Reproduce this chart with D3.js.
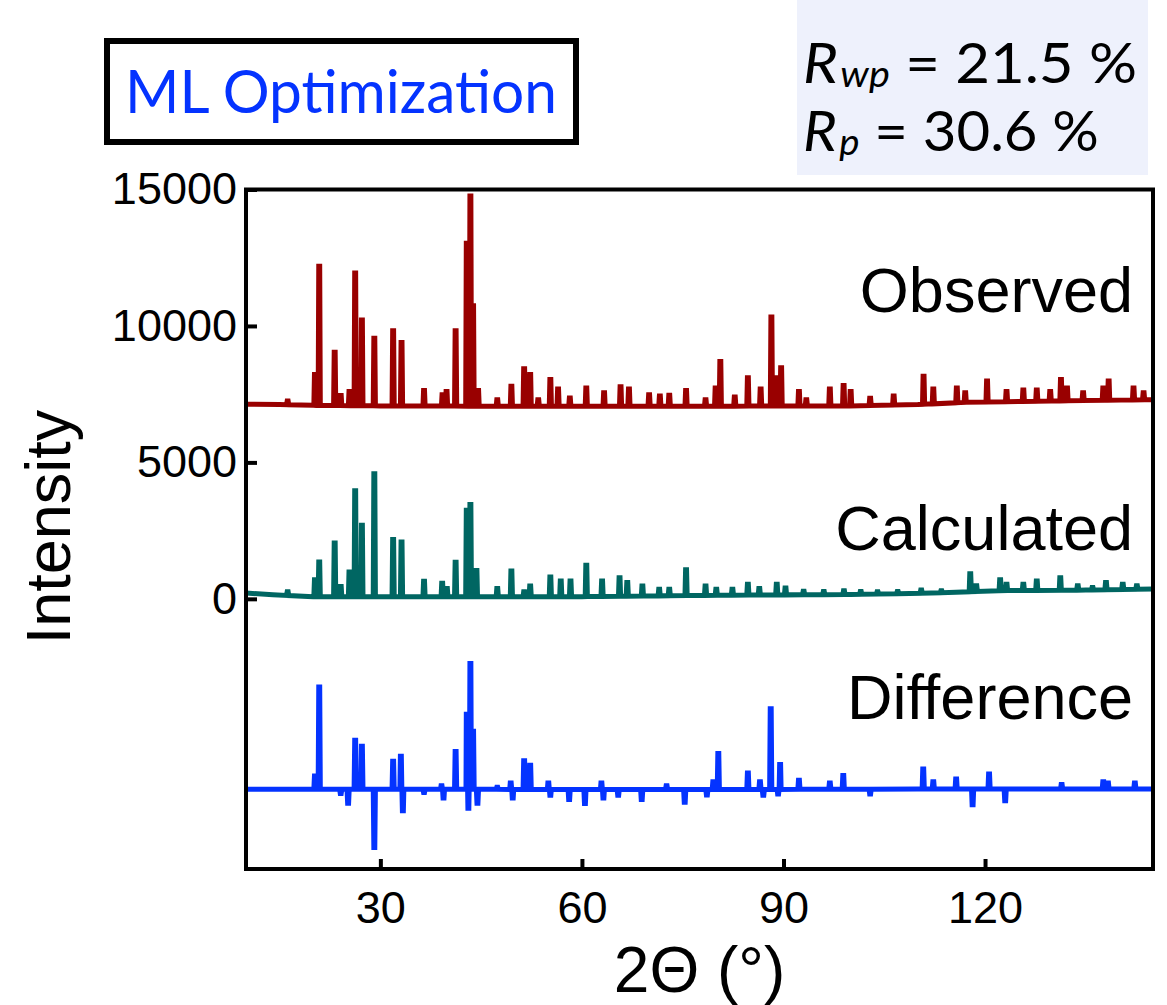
<!DOCTYPE html>
<html>
<head>
<meta charset="utf-8">
<script src="https://cdn.jsdelivr.net/npm/d3@7"></script>
<style>
  html, body { margin: 0; padding: 0; background: #ffffff; }
  svg { display: block; }
</style>
</head>
<body>
<svg id="chart" width="1167" height="1005"></svg>
<script>
// ---- Rietveld-style comparison: observed, calculated and difference patterns ----

const xTicks = [30, 60, 90, 120];
const yTicks = [0, 5000, 10000, 15000];
const xTickLabels = ["30", "60", "90", "120"];
const yTickLabels = ["0", "5000", "10000", "15000"];

const seriesNames = ["Observed", "Calculated", "Difference"];
const seriesOffsets = [7000, 0, -7000];

const methodLabel = "ML Optimization";
const fitStats = [
  { sym: "R", sub: "wp", value: "21.5" },
  { sym: "R", sub: "p",  value: "30.6" }
];

// background levels [2θ, intensity]
const observedBackground = [
  [10, 130], [15, 120], [20, 90], [30, 70], [45, 60], [60, 55], [80, 60],
  [100, 70], [110, 120], [117, 200], [130, 250], [145, 300]
];
const calculatedBackground = [
  [10, 210], [14, 150], [20, 80], [40, 75], [60, 80], [80, 130], [100, 160],
  [112, 210], [122, 300], [135, 320], [145, 360]
];
const differenceBackground = [
  [10, 20], [40, 20], [80, 10], [110, 30], [145, 30]
];

// peak tops [2θ, intensity]
const observedPeaks = [
  [16.2, 250], [20.26, 1220], [20.9, 5190], [23.2, 2040], [24.1, 450], [25.4, 600],
  [26.25, 4940], [27.25, 3220], [29.1, 2550], [31.9, 2820], [33.15, 2390],
  [36.5, 630], [39.25, 480], [39.85, 600], [41.2, 2820], [42.86, 6030],
  [43.4, 7760], [43.8, 3740], [44.55, 630], [47.4, 300], [49.5, 790],
  [51.4, 1430], [52.3, 1220], [53.5, 300], [55.3, 1040], [56.45, 690],
  [58.2, 360], [60.65, 730], [63.3, 550], [65.75, 770], [67.0, 690],
  [70.0, 480], [71.6, 430], [73.0, 460], [75.5, 630], [78.4, 300],
  [79.9, 730], [80.6, 1700], [82.75, 400], [84.7, 1100], [86.6, 690],
  [88.2, 3330], [88.9, 1100], [89.65, 1470], [92.3, 600], [93.4, 300],
  [96.9, 690], [98.95, 820], [100.0, 600], [102.9, 350], [106.4, 430],
  [110.85, 1160], [112.3, 690], [115.8, 730], [117.05, 550], [120.3, 980],
  [123.2, 600], [125.7, 650], [127.7, 650], [129.7, 600], [131.3, 1040],
  [132.2, 730], [134.6, 550], [137.6, 730], [138.4, 980], [142.1, 730],
  [143.6, 550]
];
const calculatedPeaks = [
  [16.2, 260], [20.26, 700], [20.9, 1350], [23.2, 2050], [24.1, 450], [25.4, 980],
  [26.25, 3960], [27.25, 2700], [29.1, 4580], [31.9, 2170], [33.15, 2080],
  [36.5, 640], [39.2, 575], [39.9, 380], [41.2, 1340], [42.86, 3250],
  [43.4, 3460], [44.3, 1040], [47.4, 380], [49.5, 1020], [51.4, 260],
  [52.3, 470], [55.3, 800], [56.85, 650], [58.3, 650], [60.65, 1230],
  [63.0, 650], [65.6, 770], [66.75, 600], [69.0, 470], [71.5, 350],
  [73.0, 350], [75.5, 1070], [78.4, 470], [80.0, 350], [82.4, 350],
  [84.7, 530], [86.4, 380], [89.0, 530], [90.3, 400], [93.0, 280],
  [96.0, 270], [99.0, 300], [101.5, 270], [104.0, 260], [107.0, 270],
  [110.5, 320], [113.5, 300], [117.8, 920], [118.7, 480], [122.25, 700],
  [123.2, 530], [125.7, 530], [127.7, 650], [131.2, 770], [133.8, 480],
  [136.0, 420], [138.0, 600], [140.5, 530], [142.6, 480]
];
const differencePeaks = [
  [20.26, 510], [20.9, 3770], [24.1, -130], [25.2, -490], [26.25, 1820],
  [27.25, 1600], [29.1, -2110], [31.9, 1050], [33.05, 1230], [33.35, -770],
  [36.5, -100], [39.1, 150], [39.4, -300], [41.2, 1410], [42.86, 2770],
  [43.1, -670], [43.4, 4630], [43.8, 2150], [44.45, -490], [47.4, 100],
  [49.4, 250], [49.7, -300], [51.4, 1070], [52.3, 900], [55.0, 250],
  [55.3, -200], [58.1, -350], [60.45, -500], [62.9, 250], [63.2, -300],
  [65.4, -200], [68.9, -350], [72.6, 150], [75.3, -450], [78.6, -190],
  [79.55, 300], [80.3, 1330], [84.7, 620], [86.5, 300], [87.0, -200],
  [88.1, 2970], [89.2, -150], [89.5, 930], [92.3, 350], [96.9, 250],
  [98.9, 530], [102.9, -150], [110.8, 760], [112.3, 300], [115.7, 400],
  [118.15, -550], [120.6, 580], [123.0, -400], [131.4, 200], [137.6, 300],
  [138.3, 250], [142.3, 250]
];

const seriesColors = ["#990000", "#006662", "#0433ff"];

// ---- layout ----
const svg = d3.select("#chart");
const plot = { left: 246, right: 1153, top: 189.5, bottom: 869 };

const x = d3.scaleLinear().domain([10, 145]).range([plot.left, plot.right]);
const y = d3.scaleLinear().domain([-9900, 15000]).range([plot.bottom, plot.top]);

// Build a line profile from a background and a list of narrow, flat-topped
// peaks; a peak's width shrinks when a neighbour sits close by.
function profile(peaks, background, footHalf, topHalf) {
  const bg = d3.scaleLinear()
    .domain(background.map(d => d[0]))
    .range(background.map(d => d[1]));
  const sorted = peaks.slice().sort((a, b) => a[0] - b[0]);
  const pts = [];
  const windows = [];
  sorted.forEach((p, i) => {
    const prev = i > 0 ? p[0] - sorted[i - 1][0] : Infinity;
    const next = i < sorted.length - 1 ? sorted[i + 1][0] - p[0] : Infinity;
    const hw = Math.min(footHalf, prev / 2 - 0.005, next / 2 - 0.005);
    const tw = Math.min(topHalf, hw * 0.6);
    windows.push([p[0] - hw, p[0] + hw]);
    pts.push([p[0] - hw, bg(p[0] - hw)]);
    pts.push([p[0] - tw, p[1]]);
    pts.push([p[0] + tw, p[1]]);
    pts.push([p[0] + hw, bg(p[0] + hw)]);
  });
  background.forEach(b => {
    if (!windows.some(w => b[0] >= w[0] && b[0] <= w[1])) pts.push([b[0], b[1]]);
  });
  pts.sort((a, b) => a[0] - b[0]);
  return pts;
}

const series = [
  profile(observedPeaks, observedBackground, 0.16, 0.07),
  profile(calculatedPeaks, calculatedBackground, 0.16, 0.07),
  profile(differencePeaks, differenceBackground, 0.16, 0.07)
];

const font = "'Liberation Sans', Arial, Helvetica, sans-serif";
const humanist = "Lato, 'Open Sans', sans-serif";

// ---- curves ----
const curves = svg.append("g").attr("class", "curves");
series.forEach((pts, i) => {
  const line = d3.line()
    .x(d => x(d[0]))
    .y(d => y(d[1] + seriesOffsets[i]));
  curves.append("path")
    .datum(pts)
    .attr("d", line)
    .attr("fill", "none")
    .attr("stroke", seriesColors[i])
    .attr("stroke-width", 5)
    .attr("stroke-linejoin", "miter");
});

// ---- axes ----
const yAxis = d3.axisLeft(y)
  .tickValues(yTicks)
  .tickFormat((d, i) => yTickLabels[i])
  .tickSizeInner(-11)
  .tickSizeOuter(0)
  .tickPadding(9);
const gy = svg.append("g").attr("transform", `translate(${plot.left},0)`).call(yAxis);
gy.select(".domain").remove();
gy.selectAll(".tick line").attr("stroke", "#000").attr("stroke-width", 4);
gy.selectAll(".tick text")
  .attr("font-family", font).attr("font-size", 45).attr("fill", "#000");

const xAxis = d3.axisBottom(x)
  .tickValues(xTicks)
  .tickFormat((d, i) => xTickLabels[i])
  .tickSizeInner(-10)
  .tickSizeOuter(0)
  .tickPadding(22);
const gx = svg.append("g").attr("transform", `translate(0,${plot.bottom})`).call(xAxis);
gx.select(".domain").remove();
gx.selectAll(".tick line").attr("stroke", "#000").attr("stroke-width", 4);
gx.selectAll(".tick text")
  .attr("font-family", font).attr("font-size", 45).attr("fill", "#000");

// frame
svg.append("rect")
  .attr("x", plot.left).attr("y", plot.top)
  .attr("width", plot.right - plot.left).attr("height", plot.bottom - plot.top)
  .attr("fill", "none").attr("stroke", "#000").attr("stroke-width", 4);

// axis titles
svg.append("text")
  .attr("x", (plot.left + plot.right) / 2).attr("y", 992)
  .attr("text-anchor", "middle")
  .attr("font-family", font).attr("font-size", 64)
  .text("2Θ (°)");

svg.append("text")
  .attr("transform", "translate(70,527) rotate(-90)")
  .attr("text-anchor", "middle")
  .attr("font-family", font).attr("font-size", 63)
  .text("Intensity");

// series labels
const labelBaselines = [312, 550, 719];
seriesNames.forEach((name, i) => {
  svg.append("text")
    .attr("x", 1133).attr("y", labelBaselines[i])
    .attr("text-anchor", "end")
    .attr("font-family", font).attr("font-size", 63)
    .attr("fill", "#000")
    .text(name);
});

// ---- method label box ----
svg.append("rect")
  .attr("x", 107).attr("y", 41).attr("width", 469).attr("height", 101)
  .attr("fill", "#fff").attr("stroke", "#000").attr("stroke-width", 6);
const methodG = svg.append("g").attr("transform", "translate(125,112.7)");
const method = methodG.append("text")
  .attr("font-family", humanist).attr("font-size", 60)
  .attr("fill", "#0433ff")
  .text(methodLabel);
{
  const w = method.node().getComputedTextLength();
  methodG.attr("transform", `translate(125,112.7) scale(${432 / w},1)`);
}

// ---- fit statistics box ----
svg.append("rect")
  .attr("x", 797).attr("y", 0).attr("width", 351).attr("height", 175)
  .attr("fill", "#eef1fc");
const statBaselines = [83, 151];
const statWidths = [334, 296];
fitStats.forEach((s, i) => {
  const g = svg.append("g").attr("transform", `translate(803,${statBaselines[i]})`);
  const t = g.append("text")
    .attr("font-family", humanist).attr("font-size", 56.5).attr("fill", "#000");
  t.append("tspan").attr("font-style", "italic").text(s.sym);
  t.append("tspan").attr("font-style", "italic").attr("font-size", "0.66em")
    .attr("dx", "0.06em").attr("dy", "0.1em").text(s.sub);
  t.append("tspan").attr("dy", "-0.066em").text(` = ${s.value} %`);
  const w = t.node().getComputedTextLength() + 0.06 * 56.5 * 0.66;
  g.attr("transform", `translate(803,${statBaselines[i]}) scale(${statWidths[i] / w},1)`);
});
</script>
</body>
</html>
